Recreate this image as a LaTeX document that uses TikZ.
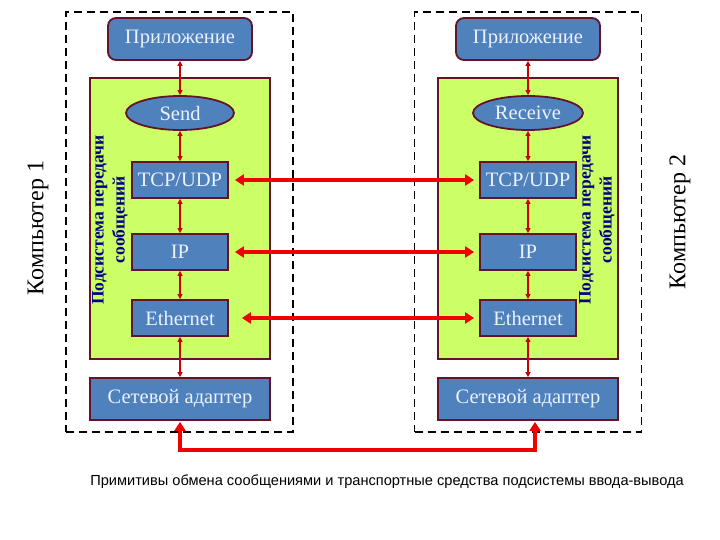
\documentclass[tikz,border=0pt]{standalone}
\usepackage{fontspec}
\setmainfont{Liberation Serif}
\newfontfamily\capfont{Liberation Sans}
\usetikzlibrary{shapes.geometric,arrows.meta}
\definecolor{boxblue}{RGB}{79,129,189}
\definecolor{boxedge}{RGB}{100,20,40}
\definecolor{boxtext}{RGB}{235,242,255}
\definecolor{subgreen}{RGB}{204,255,102}
\definecolor{subtext}{RGB}{0,0,128}
\definecolor{arrred}{RGB}{240,0,0}
\tikzset{
  dashbox/.style={draw=black, line width=1.6pt, dash pattern=on 8pt off 5pt, minimum width=227pt, minimum height=420pt},
  greenbox/.style={draw=boxedge, fill=subgreen, line width=1.5pt, minimum width=180pt, minimum height=281pt},
  bluebox/.style={draw=boxedge, fill=boxblue, line width=1.8pt, text=boxtext, font=\fontsize{20.5}{24}\selectfont, inner sep=0pt},
  appbox/.style={bluebox, rounded corners=8pt, minimum width=144pt, minimum height=42pt},
  layerbox/.style={bluebox, minimum width=96pt, minimum height=36pt},
  adapterbox/.style={bluebox, minimum width=180pt, minimum height=42pt},
  ellbox/.style={bluebox, ellipse, minimum width=108pt, minimum height=34pt},
  thinarrow/.style={draw=arrred!85!black, line width=1.4pt, {Triangle[length=5pt,width=5pt]}-{Triangle[length=5pt,width=5pt]}},
  thickarrow/.style={draw=arrred, line width=3.5pt, {Triangle[length=9pt,width=11pt]}-{Triangle[length=9pt,width=11pt]}},
  complabel/.style={rotate=90, font=\fontsize{24}{28}\selectfont},
  sublabel/.style={rotate=90, align=center, text=subtext, font=\bfseries\fontsize{17.5}{21}\selectfont}
}
\begin{document}
\begin{tikzpicture}[x=1pt,y=-1pt]
\useasboundingbox (0,0) rectangle (720,540);
% computers
\node[dashbox] (c1) at (179.5,222) {};
\node[dashbox] (c2) at (528,222) {};
% subsystems
\node[greenbox] (g1) at (180,218.5) {};
\node[greenbox] (g2) at (528,218.5) {};
% left stack
\node[appbox] (app1) at (180,39) {Приложение};
\node[ellbox] (send) at (180,113) {Send};
\node[layerbox] (tcp1) at (180,180) {TCP/UDP};
\node[layerbox] (ip1) at (180,252) {IP};
\node[layerbox] (eth1) at (180,318) {Ethernet};
\node[adapterbox] (ad1) at (180,399) {Сетевой адаптер};
% right stack
\node[appbox] (app2) at (528,39) {Приложение};
\node[ellbox, minimum width=110pt] (recv) at (528,113) {Receive};
\node[layerbox] (tcp2) at (528,180) {TCP/UDP};
\node[layerbox] (ip2) at (528,252) {IP};
\node[layerbox] (eth2) at (528,318) {Ethernet};
\node[adapterbox] (ad2) at (528,399) {Сетевой адаптер};
% labels
\node[complabel] (k1) at (38,228) {Компьютер 1};
\node[complabel] (k2) at (680,222) {Компьютер 2};
\node[sublabel] (s1) at (110,220) {Подсистема передачи\\сообщений};
\node[sublabel] (s2) at (597,220) {Подсистема передачи\\сообщений};
\node[font=\capfont\fontsize{14.6}{18}\selectfont] (cap) at (387,482) {Примитивы обмена сообщениями и транспортные средства подсистемы ввода-вывода};
% vertical thin arrows
\draw[thinarrow] (app1) -- (send);
\draw[thinarrow] (send) -- (tcp1);
\draw[thinarrow] (tcp1) -- (ip1);
\draw[thinarrow] (ip1) -- (eth1);
\draw[thinarrow] (eth1) -- (ad1);
\draw[thinarrow] (app2) -- (recv);
\draw[thinarrow] (recv) -- (tcp2);
\draw[thinarrow] (tcp2) -- (ip2);
\draw[thinarrow] (ip2) -- (eth2);
\draw[thinarrow] (eth2) -- (ad2);
% horizontal thick arrows
\draw[thickarrow, shorten <=6pt, shorten >=5pt] (tcp1) -- (tcp2);
\draw[thickarrow, shorten <=6pt, shorten >=5pt] (ip1) -- (ip2);
\draw[thickarrow, shorten <=13pt, shorten >=5pt] (eth1) -- (eth2);
% bottom link
\coordinate (b1) at (180,450);
\coordinate (b2) at (535,450);
\draw[thickarrow, shorten <=1pt, shorten >=1pt] (ad1.south) -- (b1) -- (b2) -- (ad2.south -| b2);
\end{tikzpicture}
\end{document}
